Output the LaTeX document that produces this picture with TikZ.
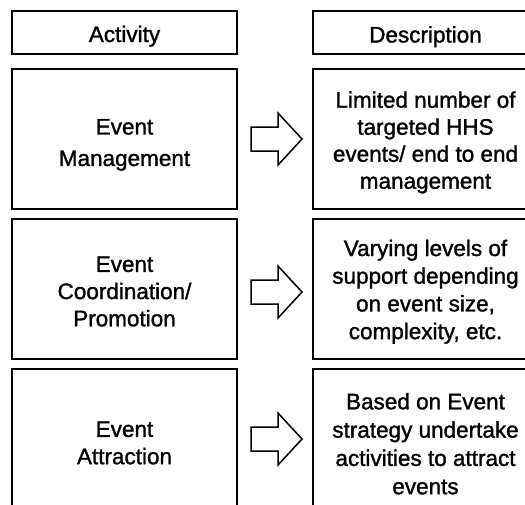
\documentclass[tikz,border=0pt]{standalone}
\usepackage{fontspec}
\setmainfont{Liberation Sans}
\newfontfamily\heavysans{Liberation Sans}[FakeBold=1.3]
\usetikzlibrary{calc}
\begin{document}
\begin{tikzpicture}[x=1pt,y=-1pt,
  box/.style={draw,line width=1.6pt,minimum width=225pt,minimum height=140pt,inner sep=0pt,outer sep=0pt},
  headbox/.style={box,minimum height=43pt},
  txt/.style={inner sep=0pt,align=center,anchor=north,font=\heavysans\fontsize{22.5}{27.5}\selectfont},
  blockarrow/.style={draw,line width=1.5pt,line join=miter}]
\useasboundingbox (0,0) rectangle (525,504);
\clip (0,0) rectangle (525,504);
% header boxes
\node[headbox] (hA) at (124.5,32.5) {};
\node[headbox] (hD) at (425.5,32.5) {};
% row boxes
\node[box] (a1) at (124.5,139) {};
\node[box] (d1) at (425.5,139) {};
\node[box] (a2) at (124.5,289) {};
\node[box] (d2) at (425.5,289) {};
\node[box] (a3) at (124.5,439) {};
\node[box] (d3) at (425.5,439) {};
% texts
\node[txt] (tA) at (124.5,25.5) {Activity};
\node[txt] (tD) at (425.5,26) {Description};
\node[txt,font=\heavysans\fontsize{22.5}{31.5}\selectfont] (ta1) at (124.5,118.8) {Event\\Management};
\node[txt,font=\heavysans\fontsize{22.5}{27}\selectfont] (td1) at (425.5,91.2) {Limited number of\\targeted HHS\\events/ end to end\\management};
\node[txt,font=\heavysans\fontsize{22.5}{27.2}\selectfont] (ta2) at (124.5,256.2) {Event\\Coordination/\\Promotion};
\node[txt,font=\heavysans\fontsize{22.5}{27.7}\selectfont] (td2) at (425.5,239.5) {Varying levels of\\support depending\\on event size,\\complexity, etc.};
\node[txt,font=\heavysans\fontsize{22.5}{27.3}\selectfont] (ta3) at (124.5,421.2) {Event\\Attraction};
\node[txt,font=\heavysans\fontsize{22.5}{28.3}\selectfont] (td3) at (425.5,392.8) {Based on Event\\strategy undertake\\activities to attract\\events};
% block arrows
\coordinate (c1) at ($(a1.east)!0.5!(d1.west)+(1.5,0)$);
\coordinate (c2) at ($(a2.east)!0.5!(d2.west)+(1.5,3)$);
\coordinate (c3) at ($(a3.east)!0.5!(d3.west)+(1.5,0)$);
\foreach \c in {c1,c2,c3}{
  \draw[blockarrow] ([shift={(-25.5,-12)}]\c) -- ++(27,0) -- ++(0,-14) -- ++(24,26)
     -- ++(-24,26) -- ++(0,-14) -- ++(-27,0) -- cycle;
}
\end{tikzpicture}
\end{document}
